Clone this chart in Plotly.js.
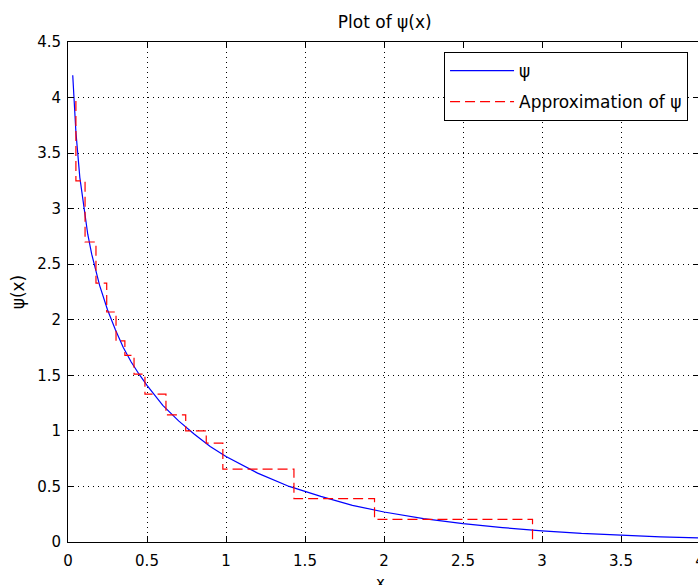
<!DOCTYPE html>
<html>
<head>
<meta charset="utf-8">
<script src="https://cdn.plot.ly/plotly-3.0.1.min.js"></script>
<style>
html, body { margin: 0; padding: 0; background: #fff; overflow: hidden; }
#chart { width: 702px; height: 585px; }
</style>
</head>
<body>
<div id="chart"></div>
<script>
// psi(x) curve, values
const psiX = [0.03, 0.05, 0.075, 0.1, 0.125, 0.15, 0.175, 0.2, 0.25, 0.3, 0.35, 0.4, 0.45, 0.5,
              0.6, 0.7, 0.8, 0.9, 1.0, 1.2, 1.4, 1.6, 1.8, 2.0, 2.25, 2.5, 2.75, 3.0, 3.25, 3.5, 3.75, 4.0];
const psiY = [4.20, 3.69, 3.28, 3.00, 2.77, 2.59, 2.44, 2.31, 2.09, 1.91, 1.75, 1.62, 1.51, 1.41,
              1.23, 1.09, 0.97, 0.86, 0.77, 0.62, 0.50, 0.41, 0.33, 0.27, 0.21, 0.165, 0.13, 0.10, 0.077, 0.06, 0.047, 0.037];

// staircase approximation (breakpoints and levels)
const approxX = [0.05, 0.05, 0.108, 0.177, 0.245, 0.304, 0.36, 0.418, 0.487, 0.62, 0.745, 0.875, 0.98, 1.43, 1.94, 2.94];
const approxY = [3.97, 3.25, 2.70, 2.33, 2.07, 1.81, 1.68, 1.51, 1.33, 1.144, 1.0, 0.89, 0.655, 0.39, 0.204, 0];

const xTicks = [0, 0.5, 1, 1.5, 2, 2.5, 3, 3.5, 4];
const yTicks = [0, 0.5, 1, 1.5, 2, 2.5, 3, 3.5, 4, 4.5];

const titleText = 'Plot of ψ(x)';
const xTitle = 'x';
const yTitle = 'ψ(x)';
const names = ['ψ', 'Approximation of ψ'];

const FONT = 'DejaVu Sans, Liberation Sans, sans-serif';

const traces = [
  {
    x: psiX, y: psiY, type: 'scatter', mode: 'lines', name: names[0],
    legendgroup: 'a',
    line: { color: '#0000ff', width: 1.2 }
  },
  {
    x: approxX, y: approxY, type: 'scatter', mode: 'lines', name: names[1],
    legendgroup: 'b',
    line: { color: '#ff0000', width: 1.2, shape: 'hv', dash: '10px,5px' }
  }
];

const axisCommon = {
  showline: true, linecolor: '#000', linewidth: 1, mirror: 'ticks',
  ticks: 'inside', ticklen: 6, tickcolor: '#000', tickwidth: 1,
  showgrid: true, gridcolor: '#000', gridwidth: 1, griddash: '1px,4px',
  zeroline: false, tickfont: { family: FONT, size: 15, color: '#000' },
  tickmode: 'array', ticklabeloverflow: 'allow'
};

const layout = {
  width: 702, height: 585,
  margin: { l: 68, r: 2, t: 42, b: 43 },
  paper_bgcolor: '#fff', plot_bgcolor: '#fff',
  title: { text: titleText, font: { family: FONT, size: 17, color: '#000' }, x: 0.548, xanchor: 'center', y: 0.962, yanchor: 'middle' },
  xaxis: Object.assign({}, axisCommon, {
    range: [0, 4], tickvals: xTicks, ticktext: xTicks.map(String),
    ticklabelstandoff: 5
  }),
  yaxis: Object.assign({}, axisCommon, {
    range: [0, 4.5], tickvals: yTicks, ticktext: yTicks.map(String),
    ticklabelstandoff: 3,
    title: { text: yTitle, font: { family: FONT, size: 17, color: '#000' }, standoff: 8 }
  }),
  annotations: [
    {
      text: xTitle, xref: 'paper', yref: 'paper', x: 0.495, y: 0,
      xanchor: 'center', yanchor: 'middle', yshift: -41, showarrow: false,
      font: { family: FONT, size: 15, color: '#000' }
    }
  ],
  showlegend: true,
  legend: {
    x: 0.595, y: 0.98, xanchor: 'left', yanchor: 'top',
    bgcolor: '#fff', bordercolor: '#000', borderwidth: 1,
    font: { family: FONT, size: 17, color: '#000' },
    itemwidth: 64, tracegroupgap: 6, traceorder: 'grouped'
  }
};

Plotly.newPlot('chart', traces, layout, { displayModeBar: false, staticPlot: true });
</script>
</body>
</html>
